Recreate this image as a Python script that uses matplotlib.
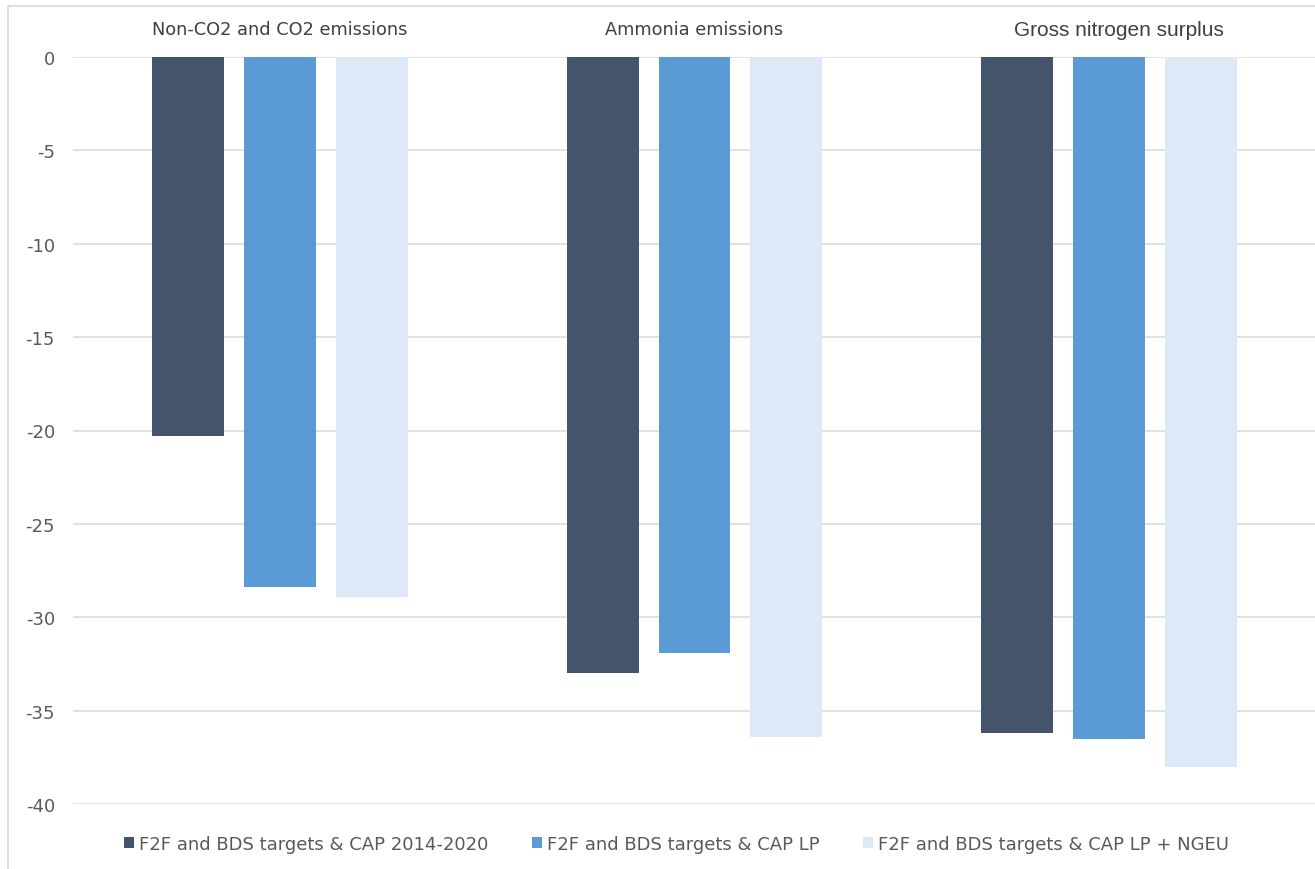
import matplotlib
matplotlib.use("Agg")
import matplotlib.pyplot as plt
from matplotlib.patches import Rectangle
import numpy as np

categories = ["Non-CO2 and CO2 emissions", "Ammonia emissions", "Gross nitrogen surplus"]
series_names = ["F2F and BDS targets & CAP 2014-2020",
                "F2F and BDS targets & CAP LP",
                "F2F and BDS targets & CAP LP + NGEU"]
cap_2014_2020 = [-20.3, -33.0, -36.2]
cap_lp = [-28.4, -31.9, -36.5]
cap_lp_ngeu = [-28.9, -36.4, -38.0]
yticks = [0, -5, -10, -15, -20, -25, -30, -35, -40]

colors = ["#44546a", "#5b9bd5", "#dde9f6"]
W, H = 1315, 870
fig = plt.figure(figsize=(W / 100, H / 100), dpi=100)
ax = fig.add_axes([73 / W, 1 - 805 / H, (1316 - 73) / W, (805 - 58) / H])

x = np.arange(len(categories))
width = 72 / 414.5
step = 92 / 414.5
for i, (vals, name) in enumerate(zip([cap_2014_2020, cap_lp, cap_lp_ngeu], series_names)):
    ax.bar(x + (i - 1) * step, vals, width=width, color=colors[i], label=name, zorder=3)

ax.set_xlim(-0.5, 2.5)
ax.set_ylim(-40, 0)
ax.set_yticks(yticks)
ax.set_yticklabels([str(v) for v in yticks])
ax.tick_params(axis="y", length=0, pad=13, labelsize=13, labelcolor="#595959")
ax.set_xticks([])
for s in ax.spines.values():
    s.set_visible(False)
ax.yaxis.grid(True, color="#d9d9d9", linewidth=1.1, zorder=0)
ax.set_axisbelow(True)

fonts = ["DejaVu Sans", "DejaVu Sans", "Liberation Sans"]
sizes = [12.8, 12.8, 15]
offsets = [0, 0, 10 / 414.5]
for xi, cat, f, fs, off in zip(x, categories, fonts, sizes, offsets):
    ax.text(xi + off, 1 + 28 / 747, cat, transform=ax.get_xaxis_transform(), ha="center",
            va="center", fontsize=fs, color="#404040", family=f)

leg = fig.legend(loc="center", bbox_to_anchor=(676.5 / W, 1 - 845 / H), ncol=3, frameon=False,
                 handlelength=0.55, handleheight=0.55, handletextpad=0.3, columnspacing=2.4,
                 fontsize=13.0, labelcolor="#595959")

fig.patches.append(Rectangle((8 / W, -0.1), 1.2, 1 - 7 / H + 0.1, transform=fig.transFigure,
                             fill=False, edgecolor="#d9d9d9", linewidth=1.2))

fig.savefig("out.png", dpi=100)
